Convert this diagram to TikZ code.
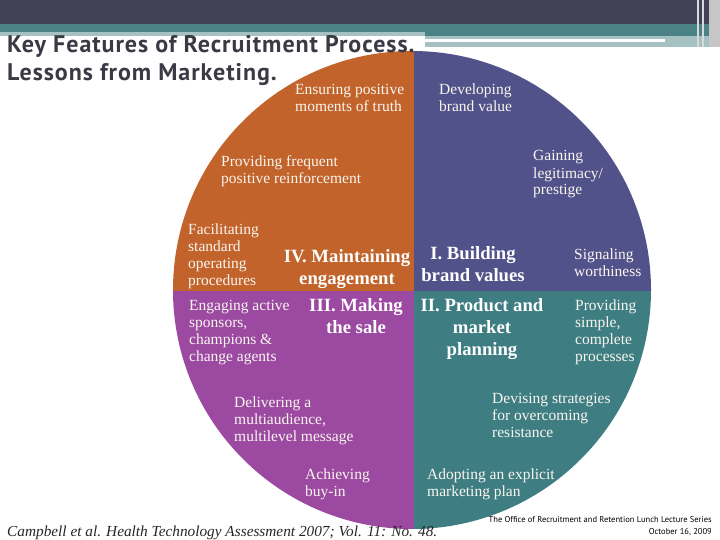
\documentclass[tikz,border=0pt]{standalone}
\usepackage{fontspec}
\setmainfont{Liberation Serif}
\newfontfamily\titlefont[LetterSpace=4]{PT Sans}
\newfontfamily\footfont{PT Sans}
\definecolor{qorange}{RGB}{193,99,42}
\definecolor{qblue}{RGB}{82,82,138}
\definecolor{qteal}{RGB}{62,126,130}
\definecolor{qpurple}{RGB}{155,73,161}
\definecolor{hdark}{RGB}{66,66,86}
\definecolor{hteal}{RGB}{74,130,134}
\definecolor{hlight}{RGB}{165,193,194}
\definecolor{titlegray}{RGB}{58,58,68}
\definecolor{labeltxt}{RGB}{250,246,240}
\tikzset{
  lbl/.style={anchor=base west, align=left, inner sep=0pt, text=labeltxt, font=\fontsize{15.5}{17}\selectfont},
  head/.style={anchor=base, align=center, inner sep=0pt, text=white, font=\bfseries\fontsize{18.7}{22}\selectfont},
}
\begin{document}
\begin{tikzpicture}[x=1pt,y=-1pt]
\useasboundingbox (0,0) rectangle (720,540);
% header
\fill[hdark] (0,0) rectangle (720,24);
\fill[hteal] (0,24) rectangle (720,36);
\fill[hlight] (425,36) rectangle (720,47);
\fill[hlight] (0,32) rectangle (425,36);
\fill[white] (425,39) rectangle (665,42);
\fill[gray!45] (709,0) rectangle (720,47);
\draw[gray!30, line width=1.2pt] (698,0) -- (698,47);
\draw[gray!30, line width=1.2pt] (703,0) -- (703,47);
% pie
\begin{scope}
\clip (412,290) circle[radius=239pt];
\fill[qorange] (165,45) rectangle (414,291);
\fill[qblue] (414,45) rectangle (660,291);
\fill[qpurple] (165,291) rectangle (414,535);
\fill[qteal] (414,291) rectangle (660,535);
\end{scope}
% title (base anchor = baseline of last line)
\node[anchor=base west, align=left, inner sep=0pt, text=titlegray, font=\titlefont\bfseries\fontsize{24}{28}\selectfont] (title) at (7,81) {Key Features of Recruitment Process.\\Lessons from Marketing.};
% labels
\node[lbl] (l1) at (295,112) {Ensuring positive\\moments of truth};
\node[lbl] (l2) at (439,112) {Developing\\brand value};
\node[lbl] (l3) at (221,184) {Providing frequent\\positive reinforcement};
\node[lbl] (l4) at (533,195) {Gaining\\legitimacy/\\prestige};
\node[lbl] (l5) at (188,285) {Facilitating\\standard\\operating\\procedures};
\node[lbl] (l6) at (574,276) {Signaling\\worthiness};
\node[lbl] (l7) at (189,361) {Engaging active\\sponsors,\\champions \&\\change agents};
\node[lbl] (l8) at (575,361) {Providing\\simple,\\complete\\processes};
\node[lbl] (l9) at (234,441) {Delivering a\\multiaudience,\\multilevel message};
\node[lbl] (l10) at (492,437) {Devising strategies\\for overcoming\\resistance};
\node[lbl] (l11) at (305,496) {Achieving\\buy-in};
\node[lbl] (l12) at (427,496) {Adopting an explicit\\marketing plan};
% headings
\node[head] (h4) at (347,284) {IV. Maintaining\\engagement};
\node[head] (h1) at (473,281) {I. Building\\brand values};
\node[head] (h3) at (356,333) {III. Making\\the sale};
\node[head] (h2) at (482,355) {II. Product and\\market\\planning};
% footer
\node[anchor=base west, inner sep=0pt, text=black!85, font=\itshape\fontsize{15.3}{18}\selectfont] (cite) at (7,536) {Campbell et al. Health Technology Assessment 2007; Vol. 11: No. 48.};
\node[anchor=base east, align=right, inner sep=0pt, text=black, font=\footfont\fontsize{8.5}{12}\selectfont] (foot) at (712,534) {The Office of Recruitment and Retention Lunch Lecture Series\\October 16, 2009};
\end{tikzpicture}
\end{document}
